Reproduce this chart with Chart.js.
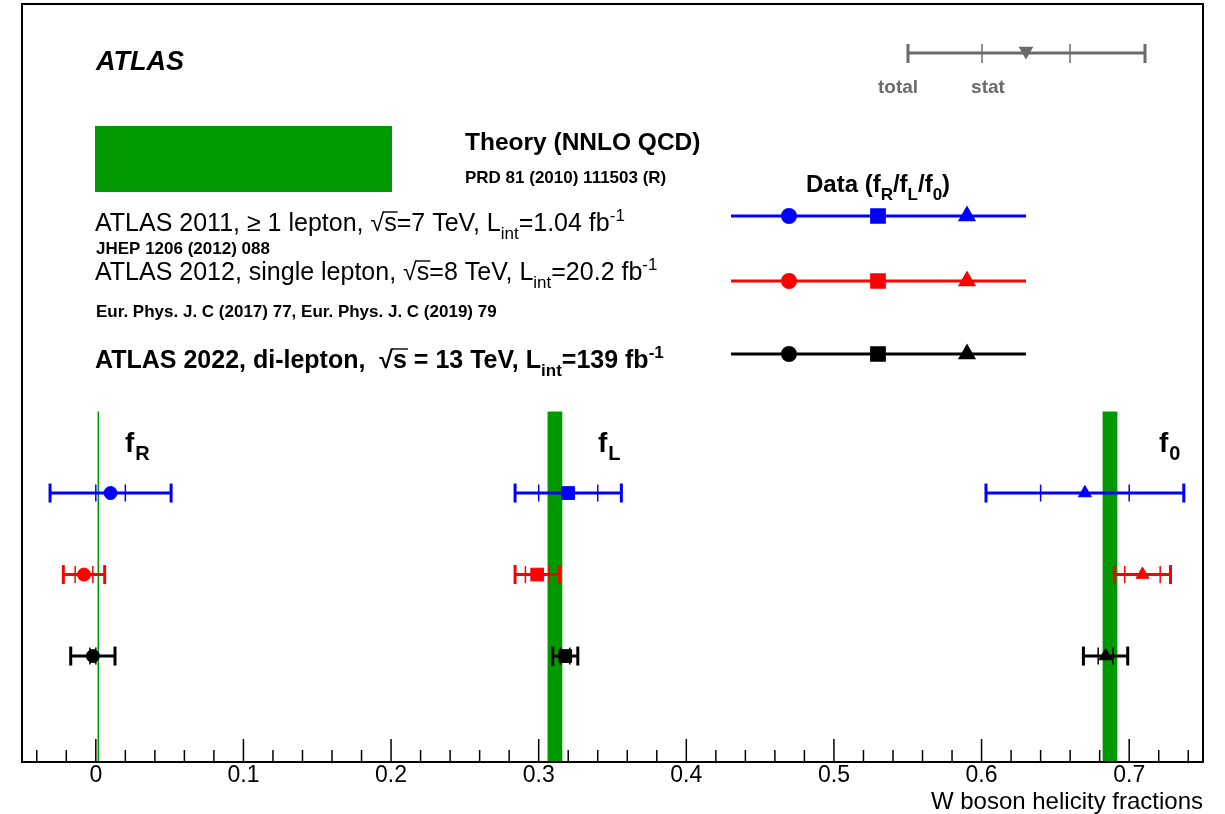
<!DOCTYPE html>
<html>
<head>
<meta charset="utf-8">
<script src="https://cdn.jsdelivr.net/npm/chart.js@4.4.1/dist/chart.umd.min.js"></script>
<style>
  html, body { margin: 0; padding: 0; background: #fff; }
  #wrap { width: 1225px; height: 814px; position: relative; }
</style>
</head>
<body>
<div id="wrap"><canvas id="helicityChart"></canvas></div>
<script>
// W helicity fractions: fR, fL, f0
const fractions = ["fR", "fL", "f0"];
const fractionStyles = ["circle", "rect", "triangle"];

// NNLO QCD prediction
const theoryValue = [0.0017, 0.311, 0.687];
const theoryError = [0.0001, 0.005, 0.005];

// ATLAS 2011, 7 TeV
const atlas7 = [0.01, 0.32, 0.67];
const atlas7Stat = [0.01, 0.02, 0.03];
const atlas7Total = [0.041, 0.036, 0.067];

// ATLAS 2012, 8 TeV
const atlas8 = [-0.008, 0.299, 0.709];
const atlas8Stat = [0.006, 0.008, 0.012];
const atlas8Total = [0.014, 0.015, 0.019];

// ATLAS 2022, 13 TeV
const atlas13 = [-0.002, 0.318, 0.684];
const atlas13Stat = [0.002, 0.003, 0.005];
const atlas13Total = [0.015, 0.0085, 0.015];

const xTicks = [0, 0.1, 0.2, 0.3, 0.4, 0.5, 0.6, 0.7];

const GREEN = "#009900";
const GREY = "#6b6b6b";
const FONT = '"Liberation Sans", Arial, sans-serif';

const series = [
  { color: "#0000ff", values: atlas7, stat: atlas7Stat, total: atlas7Total, row: 3 },
  { color: "#ff0000", values: atlas8, stat: atlas8Stat, total: atlas8Total, row: 2 },
  { color: "#000000", values: atlas13, stat: atlas13Stat, total: atlas13Total, row: 1 }
];
const markerRadius = [6.5, 9, 7.5];
const bandTop = 4.0;

function line(ctx, x1, y1, x2, y2) {
  ctx.beginPath();
  ctx.moveTo(x1, y1);
  ctx.lineTo(x2, y2);
  ctx.stroke();
}

function marker(ctx, style, r, x, y, rotation) {
  Chart.helpers.drawPoint(ctx, { pointStyle: style, radius: r, rotation: rotation || 0, borderWidth: 1 }, x, y);
}

// text runs with sub/superscripts and sqrt overline
function richText(ctx, x, y, parts, color) {
  ctx.fillStyle = color;
  ctx.strokeStyle = color;
  ctx.textAlign = "left";
  ctx.textBaseline = "alphabetic";
  let cx = x;
  parts.forEach((p) => {
    ctx.font = p.f;
    ctx.fillText(p.t, cx, y + (p.dy || 0));
    const w = ctx.measureText(p.t).width;
    if (p.over) {
      ctx.lineWidth = 1.4;
      line(ctx, cx - 1, y - p.over, cx + w + 1, y - p.over);
    }
    cx += w + (p.gap || 0);
  });
}

const decor = {
  id: "helicityDecor",
  beforeDatasetsDraw(chart) {
    const { ctx, chartArea, scales: { x, y } } = chart;
    ctx.save();
    // theory bands
    ctx.fillStyle = GREEN;
    const top = y.getPixelForValue(bandTop);
    theoryValue.forEach((v, i) => {
      const l = x.getPixelForValue(v - theoryError[i]);
      const r = x.getPixelForValue(v + theoryError[i]);
      const w = Math.max(r - l, 1.6);
      ctx.fillRect((l + r) / 2 - w / 2, top, w, chartArea.bottom - top);
    });
    // error bars: total with caps, stat as thin ticks
    series.forEach((s) => {
      const yp = y.getPixelForValue(s.row);
      ctx.strokeStyle = s.color;
      s.values.forEach((v, i) => {
        const lo = x.getPixelForValue(v - s.total[i]);
        const hi = x.getPixelForValue(v + s.total[i]);
        ctx.lineWidth = 3;
        line(ctx, lo, yp, hi, yp);
        line(ctx, lo, yp - 9.5, lo, yp + 9.5);
        line(ctx, hi, yp - 9.5, hi, yp + 9.5);
        ctx.lineWidth = 1.5;
        const sl = x.getPixelForValue(v - s.stat[i]);
        const sh = x.getPixelForValue(v + s.stat[i]);
        line(ctx, sl, yp - 8.5, sl, yp + 8.5);
        line(ctx, sh, yp - 8.5, sh, yp + 8.5);
      });
    });
    ctx.restore();
  },
  afterDraw(chart) {
    const { ctx, chartArea: a, scales: { x } } = chart;
    ctx.save();
    // frame
    ctx.strokeStyle = "#000";
    ctx.lineWidth = 2;
    ctx.strokeRect(a.left, a.top, a.right - a.left, a.bottom - a.top);
    // inward ticks on the x axis
    ctx.lineWidth = 1.5;
    for (let i = -2; i <= 37; i++) {
      const px = x.getPixelForValue(i * 0.02);
      const len = i % 5 === 0 ? 23 : 12;
      line(ctx, px, a.bottom, px, a.bottom - len);
    }

    // ATLAS label
    ctx.fillStyle = "#000";
    ctx.font = "italic bold 27px " + FONT;
    ctx.fillText("ATLAS", 96, 70);

    // total / stat sample
    ctx.strokeStyle = GREY;
    ctx.fillStyle = GREY;
    ctx.lineWidth = 3;
    line(ctx, 908, 53, 1145, 53);
    line(ctx, 908, 44, 908, 63);
    line(ctx, 1145, 44, 1145, 63);
    ctx.lineWidth = 1.5;
    line(ctx, 982, 44, 982, 63);
    line(ctx, 1070, 44, 1070, 63);
    marker(ctx, "triangle", 7, 1026, 51, 180);
    ctx.font = "bold 19px " + FONT;
    ctx.textAlign = "center";
    ctx.fillText("total", 898, 93);
    ctx.fillText("stat", 988, 93);
    ctx.textAlign = "left";

    // theory legend
    ctx.fillStyle = GREEN;
    ctx.fillRect(95, 126, 297, 66);
    ctx.fillStyle = "#000";
    ctx.font = "bold 24.5px " + FONT;
    ctx.fillText("Theory (NNLO QCD)", 465, 150);
    ctx.font = "bold 17px " + FONT;
    ctx.fillText("PRD 81 (2010) 111503 (R)", 465, 183);

    // data legend
    const b24 = "bold 24px " + FONT;
    const b17 = "bold 17px " + FONT;
    richText(ctx, 806, 192, [
      { t: "Data (f", f: b24 },
      { t: "R", f: b17, dy: 8 },
      { t: "/f", f: b24 },
      { t: "L", f: b17, dy: 8 },
      { t: "/f", f: b24 },
      { t: "0", f: b17, dy: 8 },
      { t: ")", f: b24 }
    ], "#000");

    const legendY = [216, 281, 354];
    series.forEach((s, k) => {
      ctx.strokeStyle = s.color;
      ctx.fillStyle = s.color;
      ctx.lineWidth = 3;
      line(ctx, 731, legendY[k], 1026, legendY[k]);
      [789, 878, 967].forEach((mx, i) => marker(ctx, fractionStyles[i], markerRadius[i], mx, legendY[k], 0));
    });

    const n25 = "25px " + FONT;
    const n17 = "17px " + FONT;
    richText(ctx, 95, 231, [
      { t: "ATLAS 2011, \u2265 1 lepton, \u221A", f: n25 },
      { t: "s", f: n25, over: 19 },
      { t: "=7 TeV, L", f: n25 },
      { t: "int", f: n17, dy: 8 },
      { t: "=1.04 fb", f: n25 },
      { t: "-1", f: n17, dy: -10 }
    ], "#000");
    ctx.font = "bold 17px " + FONT;
    ctx.fillStyle = "#000";
    ctx.fillText("JHEP 1206 (2012) 088", 96, 254);
    richText(ctx, 95, 280, [
      { t: "ATLAS 2012, single lepton, \u221A", f: n25 },
      { t: "s", f: n25, over: 19 },
      { t: "=8 TeV, L", f: n25 },
      { t: "int", f: n17, dy: 8 },
      { t: "=20.2 fb", f: n25 },
      { t: "-1", f: n17, dy: -10 }
    ], "#000");
    ctx.font = "bold 17px " + FONT;
    ctx.fillStyle = "#000";
    ctx.fillText("Eur. Phys. J. C (2017) 77, Eur. Phys. J. C (2019) 79", 96, 317);

    const b25 = "bold 25px " + FONT;
    richText(ctx, 95, 368, [
      { t: "ATLAS 2022, di-lepton,  \u221A", f: b25 },
      { t: "s", f: b25, over: 19 },
      { t: " = 13 TeV, L", f: b25 },
      { t: "int", f: b17, dy: 8 },
      { t: "=139 fb", f: b25 },
      { t: "-1", f: b17, dy: -10 }
    ], "#000");

    // fraction labels
    const b28 = "bold 28px " + FONT;
    const b20 = "bold 20px " + FONT;
    [[125, "R"], [598, "L"], [1159, "0"]].forEach(([lx, sub]) => {
      richText(ctx, lx, 452, [{ t: "f", f: b28, gap: 1 }, { t: sub, f: b20, dy: 8 }], "#000");
    });
    ctx.restore();
  }
};

new Chart(document.getElementById("helicityChart"), {
  type: "scatter",
  data: {
    datasets: series.map((s) => ({
      data: s.values.map((v) => ({ x: v, y: s.row })),
      backgroundColor: s.color,
      borderColor: s.color,
      pointStyle: fractionStyles,
      pointRadius: markerRadius,
      pointBorderWidth: 1,
      showLine: false
    }))
  },
  options: {
    responsive: true,
    maintainAspectRatio: false,
    animation: false,
    layout: { autoPadding: false, padding: { left: 22, right: 22, top: 4, bottom: 0 } },
    plugins: {
      legend: { display: false },
      tooltip: { enabled: false }
    },
    scales: {
      x: {
        type: "linear",
        min: -0.05,
        max: 0.75,
        afterBuildTicks: (scale) => { scale.ticks = xTicks.map((v) => ({ value: v })); },
        grid: { display: false, drawTicks: false },
        border: { display: false },
        ticks: {
          padding: 2.5,
          maxRotation: 0,
          color: "#000",
          font: { family: FONT, size: 23, lineHeight: 1.0 },
          callback: (v) => String(Math.round(v * 10) / 10)
        },
        title: {
          display: true,
          text: "W boson helicity fractions",
          align: "end",
          color: "#000",
          font: { family: FONT, size: 24, lineHeight: 1.0 },
          padding: { top: 0, bottom: 0 }
        }
      },
      y: { display: false, min: -0.3, max: 9.0 }
    }
  },
  plugins: [decor]
});
</script>
</body>
</html>
